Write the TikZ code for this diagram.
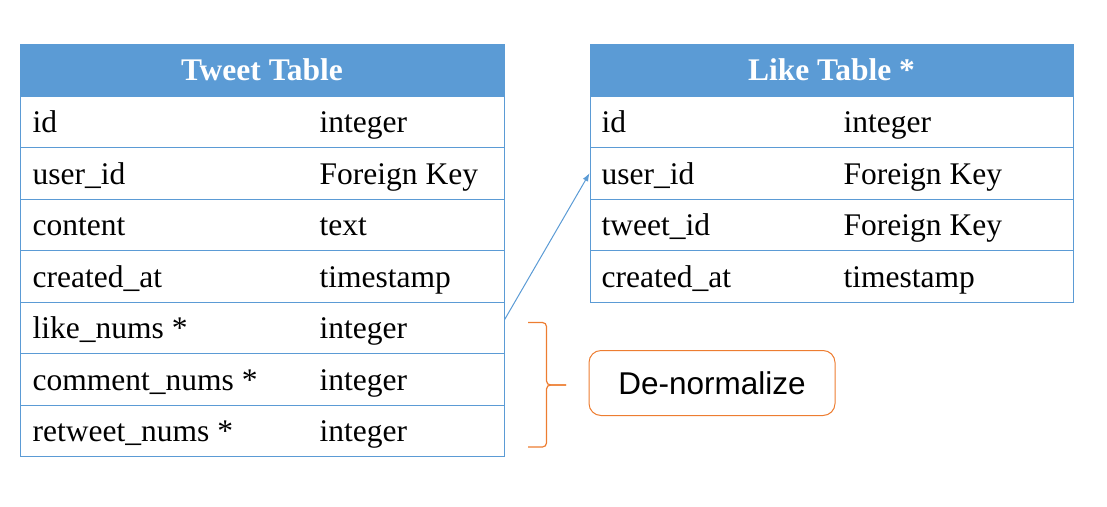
\documentclass[tikz,border=0pt]{standalone}
\usepackage{fontspec}
\setmainfont{Liberation Serif}
\newfontfamily\notefont{Liberation Sans}
\usetikzlibrary{positioning}
\usetikzlibrary{arrows.meta}

\definecolor{tblblue}{HTML}{5B9BD5}
\definecolor{notered}{HTML}{ED7D31}

\tikzset{
  tblhead/.style={draw=tblblue, fill=tblblue, text=white, line width=1pt,
    font=\bfseries\fontsize{31.5}{36}\selectfont, inner sep=0pt,
    minimum height=51.5pt},
  tblrow/.style={draw=tblblue, line width=1pt, inner sep=0pt,
    minimum height=51.5pt},
  tblcell/.style={anchor=base west, inner sep=0pt,
    font=\fontsize{31.5}{36}\selectfont},
  notebox/.style={draw=notered, line width=1pt, rounded corners=12pt,
    minimum width=246pt, minimum height=65pt,
    font=\notefont\fontsize{31.5}{36}\selectfont},
}

\begin{document}
\begin{tikzpicture}[x=1pt,y=-1pt]
  \useasboundingbox (0,0) rectangle (1107,506);

  \node[tblhead, minimum width=484pt] (tweet-head) at (262,70) {Tweet Table};
  \foreach \i/\f/\t in {1/id/integer,
                        2/user\_id/Foreign Key,
                        3/content/text,
                        4/created\_at/timestamp,
                        5/like\_nums */integer,
                        6/comment\_nums */integer,
                        7/retweet\_nums */integer}
  {
    \node[tblrow, minimum width=484pt] (tweet-\i) at (262,{96+51.5*(\i-0.5)}) {};
    \node[tblcell] (tweet-\i-field) at ([xshift=13pt,yshift=-11pt]tweet-\i.west) {\f};
    \node[tblcell] (tweet-\i-type) at ([xshift=300pt,yshift=-11pt]tweet-\i.west) {\t};
  }

  \node[tblhead, minimum width=483pt] (like-head) at (831.5,70) {Like Table *};
  \foreach \i/\f/\t in {1/id/integer,
                        2/user\_id/Foreign Key,
                        3/tweet\_id/Foreign Key,
                        4/created\_at/timestamp}
  {
    \node[tblrow, minimum width=483pt] (like-\i) at (831.5,{96+51.5*(\i-0.5)}) {};
    \node[tblcell] (like-\i-field) at ([xshift=12pt,yshift=-11pt]like-\i.west) {\f};
    \node[tblcell] (like-\i-type) at ([xshift=254pt,yshift=-11pt]like-\i.west) {\t};
  }

  \coordinate (like-out) at ([yshift=8pt]tweet-5.east);
  \draw[-{Latex[length=8pt,width=6pt]}, tblblue, line width=1pt]
    (like-out)
    --
    (like-2.west);

  \draw[notered, line width=1.2pt, rounded corners=4pt]
    (528,322.5)
    --
    (546.5,322.5)
    --
    (546.5,385)
    --
    (566,385);
  \draw[notered, line width=1.2pt, rounded corners=4pt]
    (528,447)
    --
    (546.5,447)
    --
    (546.5,385)
    --
    (566,385);

  \node[notebox] (denorm) at (712,383) {De-normalize};
\end{tikzpicture}
\end{document}
